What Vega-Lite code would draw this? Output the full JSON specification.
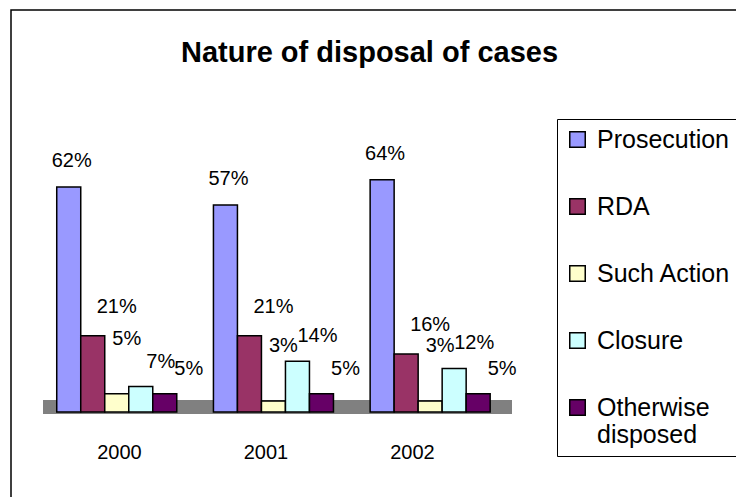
{
  "$schema": "https://vega.github.io/schema/vega-lite/v6.json",
  "width": 725,
  "height": 487,
  "autosize": {"type": "none"},
  "padding": {"left": 11, "top": 10, "right": 0, "bottom": 0},
  "background": "white",
  "config": {
    "font": "Liberation Sans",
    "view": {"stroke": "black", "strokeWidth": 1.5, "strokeDash": [725, 1212, 487]}
  },
  "title": {
    "text": "Nature of disposal of cases",
    "anchor": "middle",
    "frame": "group",
    "fontSize": 29,
    "fontWeight": "bold",
    "font": "Liberation Sans",
    "color": "black",
    "offset": 0,
    "baseline": "alphabetic",
    "dy": 81,
    "dx": -4
  },
  "data": {
    "values": [
      {"year": "2000", "series": "Prosecution", "value": 0.62},
      {"year": "2000", "series": "RDA", "value": 0.21},
      {"year": "2000", "series": "Such Action", "value": 0.05},
      {"year": "2000", "series": "Closure", "value": 0.07},
      {"year": "2000", "series": "Otherwise disposed", "value": 0.05},
      {"year": "2001", "series": "Prosecution", "value": 0.57},
      {"year": "2001", "series": "RDA", "value": 0.21},
      {"year": "2001", "series": "Such Action", "value": 0.03},
      {"year": "2001", "series": "Closure", "value": 0.14},
      {"year": "2001", "series": "Otherwise disposed", "value": 0.05},
      {"year": "2002", "series": "Prosecution", "value": 0.64},
      {"year": "2002", "series": "RDA", "value": 0.16},
      {"year": "2002", "series": "Such Action", "value": 0.03},
      {"year": "2002", "series": "Closure", "value": 0.12},
      {"year": "2002", "series": "Otherwise disposed", "value": 0.05}
    ]
  },
  "layer": [
    {
      "mark": {"type": "bar", "color": "#808080"},
      "encoding": {
        "x": {"field": "year", "type": "nominal", "axis": null,
              "scale": {"range": [32, 501], "paddingInner": 0, "paddingOuter": 0}},
        "y": {"datum": -0.0055, "type": "quantitative",
              "scale": {"domain": [0, 0.8], "range": [402, 111.6]}, "axis": null},
        "y2": {"datum": 0.033}
      }
    },
    {
      "mark": {"type": "point", "opacity": 0},
      "encoding": {
        "x": {"field": "year", "type": "nominal",
              "scale": {"range": [34.75, 474.25], "paddingInner": 0, "paddingOuter": 0},
              "axis": {"title": null, "domain": false, "ticks": false, "grid": false,
                       "labelFontSize": 20, "labelColor": "black", "labelFont": "Liberation Sans",
                       "labelAngle": 0, "labelBaseline": "middle", "labelPadding": 0, "offset": -45}}
      }
    },
    {
      "encoding": {
        "x": {"field": "year", "type": "nominal", "axis": null,
              "scale": {"range": [27.4, 497.5], "paddingInner": 0.234, "paddingOuter": 0.117}},
        "xOffset": {"field": "series", "type": "nominal",
                    "scale": {"domain": ["Prosecution", "RDA", "Such Action", "Closure", "Otherwise disposed"], "paddingInner": 0, "paddingOuter": 0}},
        "y": {"field": "value", "type": "quantitative", "axis": null,
              "scale": {"domain": [0, 0.8], "range": [402, 111.6]}}
      },
      "layer": [
        {
          "mark": {"type": "bar", "stroke": "black", "strokeWidth": 1.5},
          "encoding": {
            "color": {"field": "series", "type": "nominal",
                      "scale": {"domain": ["Prosecution", "RDA", "Such Action", "Closure", "Otherwise disposed"],
                                "range": ["#9999FF", "#993366", "#FFFFCC", "#CCFFFF", "#660066"]},
                      "legend": {"orient": "none", "legendX": 546, "legendY": 109, "title": null,
                                 "strokeColor": "black", "fillColor": "white", "padding": 8,
                                 "labelFontSize": 25, "labelFont": "Liberation Sans", "labelColor": "black",
                                 "labelLimit": 400, "labelOffset": 7,
                                 "symbolType": "square", "symbolSize": 240, "symbolStrokeColor": "black",
                                 "symbolStrokeWidth": 1.5, "symbolOpacity": 1, "rowPadding": 41,
                                 "labelExpr": "datum.label == 'Otherwise disposed' ? ['Otherwise', 'disposed'] : datum.label"}}
          }
        },
        {
          "transform": [{"filter": {"field": "series", "equal": "Prosecution"}}],
          "mark": {"type": "text", "dx": 3, "dy": -26, "baseline": "middle", "fontSize": 20, "color": "black", "font": "Liberation Sans"},
          "encoding": {"text": {"field": "value", "type": "quantitative", "format": ".0%"}}
        },
        {
          "transform": [{"filter": {"field": "series", "equal": "Such Action"}}],
          "mark": {"type": "text", "dx": 10, "dy": -55, "baseline": "middle", "fontSize": 20, "color": "black", "font": "Liberation Sans"},
          "encoding": {"text": {"field": "value", "type": "quantitative", "format": ".0%"}}
        },
        {
          "transform": [{"filter": {"field": "series", "equal": "Closure"}}],
          "mark": {"type": "text", "dx": 20, "dy": -25, "baseline": "middle", "fontSize": 20, "color": "black", "font": "Liberation Sans"},
          "encoding": {"text": {"field": "value", "type": "quantitative", "format": ".0%"}}
        },
        {
          "transform": [{"filter": {"field": "series", "equal": "RDA"}}],
          "mark": {"type": "text", "dx": 24, "dy": -29, "baseline": "middle", "fontSize": 20, "color": "black", "font": "Liberation Sans"},
          "encoding": {"text": {"field": "value", "type": "quantitative", "format": ".0%"}}
        },
        {
          "transform": [{"filter": {"field": "series", "equal": "Otherwise disposed"}}],
          "mark": {"type": "text", "dx": 24, "dy": -25, "baseline": "middle", "fontSize": 20, "color": "black", "font": "Liberation Sans"},
          "encoding": {"text": {"field": "value", "type": "quantitative", "format": ".0%"}}
        }
      ]
    }
  ],
  "resolve": {"scale": {"x": "independent"}}
}
